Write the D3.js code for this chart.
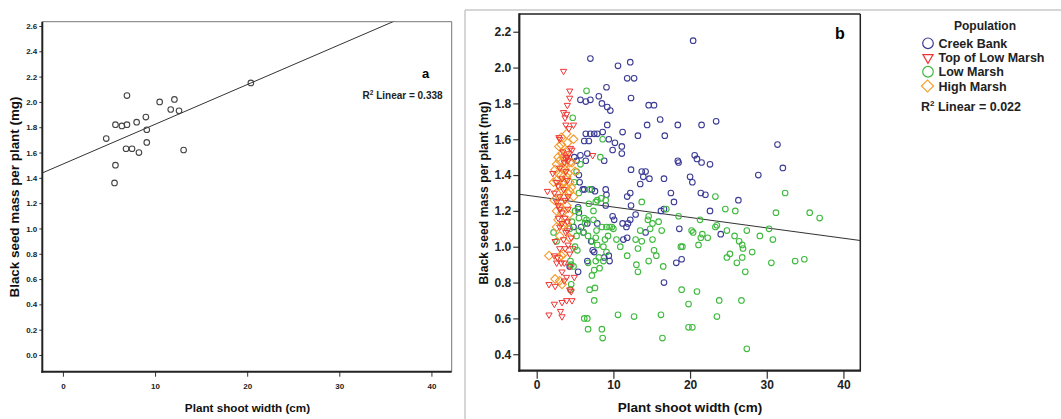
<!DOCTYPE html>
<html><head><meta charset="utf-8">
<script src="https://cdn.jsdelivr.net/npm/d3@7"></script>
<style>body{margin:0;background:#fff;} svg{display:block;font-family:"Liberation Sans",Arial,sans-serif;}</style>
</head><body><svg id="c" width="1061" height="419"></svg>
<script>
// ---------- DATA ----------
// Panel a
const aShoot = [4.7,5.6,5.7,5.7,6.4,6.95,6.95,6.85,7.5,8.0,8.25,9.0,9.1,9.1,10.5,11.7,12.1,12.6,13.1,20.4];
const aSeed  = [1.71,1.36,1.50,1.82,1.81,1.82,2.05,1.63,1.63,1.84,1.60,1.88,1.78,1.68,2.00,1.94,2.02,1.93,1.62,2.15];
const aFit = {intercept: 1.509, slope: 0.0314};
const aR2 = "0.338";
const aYTicks = [0.0,0.2,0.4,0.6,0.8,1.0,1.2,1.4,1.6,1.8,2.0,2.2,2.4,2.6];
const xTicks = [0,10,20,30,40];

// Panel b
const populations = ["Creek Bank","Top of Low Marsh","Low Marsh","High Marsh"];
const cbX = [20.4,7.0,10.6,12.2,11.8,12.7,12.3,9.1,8.1,5.7,6.4,7.0,8.5,9.2,9.6,14.6,15.3,16.1,14.4,18.4,21.5,23.4,16.7,13.2,11.2,9.2,6.2,6.4,7.0,7.5,7.9,8.6,6.8,9.4,10.2,9.9,11.1,11.1,5.7,6.6,6.4,8.8,20.6,20.9,21.5,22.6,18.4,18.5,31.4,32.1,28.9,20.0,20.3,12.3,13.7,14.2,13.9,14.7,13.5,16.6,5.5,5.6,6.0,6.2,7.2,7.6,9.0,9.1,12.2,11.8,12.3,17.5,17.9,21.4,22.0,26.3,9.0,12.9,16.2,16.6,22.6,9.9,10.1,11.2,11.7,11.9,12.2,11.8,11.3,14.2,18.6,24.0,18.9,18.2,16.6,7.1,7.3,7.5,6.6,8.8,9.4,9.5,5.4,4.3,4.8,5.8,6.6,7.9,6.1,5.4,5.5,4.9,5.2];
const cbY = [2.15,2.05,2.01,2.03,1.94,1.94,1.83,1.89,1.84,1.82,1.81,1.82,1.80,1.78,1.76,1.79,1.79,1.71,1.68,1.68,1.68,1.70,1.62,1.62,1.64,1.68,1.59,1.63,1.63,1.63,1.63,1.64,1.59,1.60,1.58,1.54,1.56,1.52,1.51,1.52,1.48,1.48,1.51,1.49,1.47,1.46,1.48,1.47,1.57,1.44,1.40,1.39,1.36,1.43,1.42,1.42,1.39,1.38,1.35,1.38,1.40,1.36,1.32,1.32,1.32,1.31,1.32,1.29,1.30,1.28,1.23,1.30,1.25,1.30,1.29,1.26,1.23,1.18,1.20,1.21,1.20,1.17,1.15,1.13,1.11,1.13,1.15,1.05,1.04,1.08,1.10,1.07,0.93,0.91,0.80,1.03,0.98,0.97,0.92,0.94,0.95,0.92,0.86,0.89,1.11,1.11,1.13,1.13,1.08,1.22,1.19,1.50,1.48];
const lmX = [6.5,4.7,8.6,8.3,5.7,32.4,23.3,13.7,24.6,25.9,31.2,35.6,36.9,16.9,18.5,21.3,14.6,15.1,15.9,14.5,14.8,13.5,16.3,20.2,20.4,21.6,21.4,22.3,23.5,23.3,24.8,27.4,30.3,29.1,30.8,25.8,26.4,26.8,26.9,28.1,25.2,24.8,26.8,26.1,27.2,30.6,33.7,34.9,18.8,21.1,15.1,15.3,15.6,14.6,16.5,13.0,13.2,13.2,13.7,12.9,11.8,10.9,10.4,9.5,9.8,9.1,8.5,18.9,20.9,19.8,23.8,26.7,23.5,16.2,10.6,12.7,19.8,20.3,16.4,27.4,8.5,8.6,6.7,6.2,6.6,6.9,7.6,7.5,7.2,8.2,7.5,6.7,7.7,8.7,8.1,8.7,9.1,7.9,7.2,7.7,6.7,6.1,5.5,5.2,5.0,5.3,4.4,4.5,4.8,4.5,4.4,2.2,2.6,4.3,4.6,5.5,6.2,6.5,6.3,5.0,5.4,6.8,7.4,7.9,8.4,7.7,9.0,5.5,6.9,4.9,5.2,7.4,7.8,9.3,10.0,8.9,19.0];
const lmY = [1.87,1.72,1.60,1.50,1.46,1.30,1.28,1.25,1.21,1.20,1.19,1.19,1.16,1.21,1.17,1.15,1.17,1.13,1.14,1.15,1.10,1.09,1.09,1.09,1.08,1.07,1.05,1.05,1.12,1.11,1.09,1.09,1.10,1.06,1.04,1.06,1.03,1.01,0.99,0.97,0.96,0.94,0.94,0.91,0.86,0.91,0.92,0.93,1.00,1.01,1.04,0.98,0.95,0.92,0.89,0.90,0.86,0.99,1.03,1.04,0.95,1.00,1.04,1.11,1.11,1.11,1.11,0.76,0.75,0.68,0.70,0.70,0.61,0.62,0.62,0.61,0.55,0.55,0.49,0.43,0.54,0.49,0.54,0.60,0.60,0.76,0.77,0.70,0.84,0.88,0.87,0.91,0.92,0.92,0.94,1.00,0.97,1.01,1.03,1.05,1.06,1.08,1.09,1.06,1.00,0.98,0.92,0.90,0.89,0.79,0.76,1.08,1.03,1.10,1.14,1.16,1.16,1.15,1.13,1.20,1.21,1.24,1.20,1.26,1.27,1.25,1.26,1.30,1.32,1.36,1.42,1.15,1.09,1.06,1.10,1.04,1.00];
const tlmX = [3.5,4.3,4.3,4.0,3.5,3.9,3.7,3.8,4.8,4.2,2.9,3.0,4.6,3.9,7.3,1.4,2.1,2.6,2.3,2.6,3.0,2.8,3.3,2.4,2.3,2.7,2.6,3.2,3.3,3.6,1.6,2.4,2.3,3.3,3.9,4.6,4.5,4.3,1.6,3.1,3.3,4.0,4.5,4.9,4.7,3.8,4.0,4.1,3.6,3.0,3.8,3.3,4.0,2.8,3.5,4.1,3.0,3.7,2.8,4.1,3.3,3.7,4.0,3.0,3.8,3.5,4.1,3.7,3.0,4.3,3.6,4.3,3.9,4.4,4.2,3.4];
const tlmY = [1.98,1.87,1.83,1.79,1.75,1.74,1.72,1.68,1.68,1.66,1.61,1.60,1.54,1.50,1.51,1.31,1.41,1.36,1.30,1.25,1.21,1.16,1.13,1.03,0.95,0.94,0.91,0.91,0.86,0.81,0.79,0.78,0.68,0.69,0.70,0.70,0.75,0.76,0.62,0.64,0.61,1.09,1.05,0.83,0.99,1.49,1.50,1.48,1.47,1.44,1.42,1.38,1.37,1.34,1.32,1.28,1.28,1.26,1.23,1.21,1.19,1.16,1.14,1.11,1.08,1.04,1.01,0.99,0.99,0.96,0.91,0.89,0.83,1.55,1.52,1.53];
const hmX = [3.2,3.9,4.8,2.9,3.2,3.8,3.5,3.0,2.6,3.7,4.3,4.6,5.0,2.4,2.8,3.2,3.9,2.6,3.5,4.3,3.0,3.8,2.6,4.8,2.3,3.0,3.9,2.6,3.3,2.8,3.9,2.6,3.0,4.3,1.6,3.2,3.5,2.9,2.4,3.0,3.3,4.3,2.2,3.5,4.1,3.4,4.0,3.1,3.6,4.2,3.4,3.7,4.5,2.8,4.0,3.3];
const hmY = [1.61,1.63,1.60,1.56,1.57,1.53,1.50,1.48,1.46,1.46,1.47,1.47,1.42,1.43,1.41,1.40,1.39,1.37,1.36,1.36,1.34,1.33,1.30,1.28,1.26,1.25,1.23,1.20,1.19,1.15,1.13,1.11,1.06,1.05,0.95,0.95,0.96,0.94,0.82,0.81,0.79,1.31,1.36,1.44,1.41,1.35,1.30,1.22,1.28,1.18,1.12,1.43,1.33,1.50,1.58,1.52];
const bFit = {intercept: 1.280, slope: -0.00582};
const bR2 = "0.022";
const bYTicks = [0.4,0.6,0.8,1.0,1.2,1.4,1.6,1.8,2.0,2.2];
const colors = {"Creek Bank":"#3c3c96","Top of Low Marsh":"#ee3535","Low Marsh":"#3fba3f","High Marsh":"#f79a2c"};

// ---------- DRAW ----------
const svg = d3.select("#c");
const fmt = d3.format(".1f");

// ===== Panel a =====
const xA = d3.scaleLinear().domain([-2.24, 42.2]).range([42.3, 451.7]);
const yA = d3.scaleLinear().domain([-0.132, 2.634]).range([371.7, 21.7]);
const gA = svg.append("g");
gA.append("clipPath").attr("id","clipA").append("rect")
  .attr("x",xA.range()[0]).attr("y",yA.range()[1])
  .attr("width",xA.range()[1]-xA.range()[0]).attr("height",yA.range()[0]-yA.range()[1]);
gA.append("line").attr("x1",xA.range()[0]).attr("x2",xA.range()[1]).attr("y1",yA.range()[1]).attr("y2",yA.range()[1]).attr("stroke","#777").attr("stroke-width",1);
gA.append("line").attr("x1",xA.range()[1]).attr("x2",xA.range()[1]).attr("y1",yA.range()[1]).attr("y2",yA.range()[0]).attr("stroke","#777").attr("stroke-width",1);
const axYA = gA.append("g").attr("transform",`translate(${xA.range()[0]},0)`)
  .call(d3.axisLeft(yA).tickValues(aYTicks).tickFormat(fmt).tickSize(3).tickSizeOuter(0).tickPadding(2));
const axXA = gA.append("g").attr("transform",`translate(0,${yA.range()[0]})`)
  .call(d3.axisBottom(xA).tickValues(xTicks).tickSize(5).tickSizeOuter(0).tickPadding(7));
[axYA, axXA].forEach(ax => {
  ax.select(".domain").remove();
  ax.selectAll(".tick line").attr("stroke","#333").attr("stroke-width",1);
  ax.selectAll("text").attr("font-family","'Liberation Sans',Arial,sans-serif").attr("font-size",8).attr("font-weight","bold").attr("fill","#222");
});
gA.append("line").attr("x1",xA.range()[0]).attr("x2",xA.range()[0]).attr("y1",yA.range()[1]).attr("y2",yA.range()[0]+1).attr("stroke","#222").attr("stroke-width",2);
gA.append("line").attr("x1",xA.range()[0]-1).attr("x2",xA.range()[1]).attr("y1",yA.range()[0]).attr("y2",yA.range()[0]).attr("stroke","#222").attr("stroke-width",2);
gA.append("line").attr("clip-path","url(#clipA)")
  .attr("x1",xA(xA.domain()[0])).attr("y1",yA(aFit.intercept + aFit.slope*xA.domain()[0]))
  .attr("x2",xA(xA.domain()[1])).attr("y2",yA(aFit.intercept + aFit.slope*xA.domain()[1]))
  .attr("stroke","#333").attr("stroke-width",1);
gA.append("g").selectAll("circle").data(aShoot.map((x,i)=>[x,aSeed[i]])).join("circle")
  .attr("cx",d=>xA(d[0])).attr("cy",d=>yA(d[1])).attr("r",2.8)
  .attr("fill","none").attr("stroke","#444").attr("stroke-width",1.1);
gA.append("text").attr("x",425.5).attr("y",77.5).attr("text-anchor","middle").attr("font-size",13).attr("font-weight","bold").text("a");
const r2a = gA.append("text").attr("x",362.5).attr("y",99).attr("font-size",10).attr("font-weight","bold").attr("fill","#222");
r2a.append("tspan").text("R");
r2a.append("tspan").attr("font-size",6.5).attr("dy",-4).text("2");
r2a.append("tspan").attr("dy",4).text(" Linear = " + aR2);
gA.append("text").attr("x",247.5).attr("y",411.5).attr("text-anchor","middle").attr("font-size",11.7).attr("font-weight","bold").attr("fill","#111").text("Plant shoot width (cm)");
gA.append("text").attr("transform","translate(18.5,197) rotate(-90)").attr("text-anchor","middle").attr("font-size",13.4).attr("font-weight","bold").attr("fill","#111").text("Black seed mass per plant (mg)");

// ===== Panel b =====
const gB = svg.append("g");
gB.append("line").attr("x1",465).attr("x2",1061).attr("y1",10).attr("y2",10).attr("stroke","#c8c8c8").attr("stroke-width",1.5);
gB.append("line").attr("x1",465).attr("x2",465).attr("y1",10).attr("y2",419).attr("stroke","#c8c8c8").attr("stroke-width",1.5);

const xB = d3.scaleLinear().domain([-2.27, 42.2]).range([519.3, 860.3]);
const yB = d3.scaleLinear().domain([0.308, 2.299]).range([370.7, 14]);
gB.append("clipPath").attr("id","clipB").append("rect")
  .attr("x",xB.range()[0]).attr("y",yB.range()[1])
  .attr("width",xB.range()[1]-xB.range()[0]).attr("height",yB.range()[0]-yB.range()[1]);

const axYB = gB.append("g").attr("transform",`translate(${xB.range()[0]},0)`)
  .call(d3.axisLeft(yB).tickValues(bYTicks).tickFormat(fmt).tickSize(6).tickSizeOuter(0).tickPadding(2));
const axXB = gB.append("g").attr("transform",`translate(0,${yB.range()[0]})`)
  .call(d3.axisBottom(xB).tickValues(xTicks).tickSize(8).tickSizeOuter(0).tickPadding(2));
[axYB, axXB].forEach(ax => {
  ax.select(".domain").remove();
  ax.selectAll(".tick line").attr("stroke","#333").attr("stroke-width",1.2);
  ax.selectAll("text").attr("font-family","'Liberation Sans',Arial,sans-serif").attr("font-size",12).attr("font-weight","bold").attr("fill","#222");
});

gB.append("line").attr("clip-path","url(#clipB)")
  .attr("x1",xB(xB.domain()[0])).attr("y1",yB(bFit.intercept + bFit.slope*xB.domain()[0]))
  .attr("x2",xB(xB.domain()[1])).attr("y2",yB(bFit.intercept + bFit.slope*xB.domain()[1]))
  .attr("stroke","#333").attr("stroke-width",1.1);

const marks = gB.append("g").attr("clip-path","url(#clipB)");
const tri = d3.symbol().type(d3.symbolTriangle).size(17)();
const dia = d3.symbol().type(d3.symbolSquare).size(38)();
function circles(xs, ys, col){
  marks.append("g").selectAll("circle").data(xs.map((x,i)=>[x,ys[i]])).join("circle")
    .attr("cx",d=>xB(d[0])).attr("cy",d=>yB(d[1])).attr("r",2.8)
    .attr("fill","none").attr("stroke",col).attr("stroke-width",1.1);
}
circles(cbX, cbY, colors["Creek Bank"]);
circles(lmX, lmY, colors["Low Marsh"]);
marks.append("g").selectAll("path").data(hmX.map((x,i)=>[x,hmY[i]])).join("path")
  .attr("d",dia).attr("transform",d=>`translate(${xB(d[0])},${yB(d[1])}) rotate(45)`)
  .attr("fill","none").attr("stroke",colors["High Marsh"]).attr("stroke-width",1.1);
marks.append("g").selectAll("path").data(tlmX.map((x,i)=>[x,tlmY[i]])).join("path")
  .attr("d",tri).attr("transform",d=>`translate(${xB(d[0])},${yB(d[1])}) rotate(180)`)
  .attr("fill","none").attr("stroke",colors["Top of Low Marsh"]).attr("stroke-width",1);

gB.append("line").attr("x1",xB.range()[0]).attr("x2",xB.range()[1]).attr("y1",yB.range()[1]).attr("y2",yB.range()[1]).attr("stroke","#222").attr("stroke-width",1.5);
gB.append("line").attr("x1",xB.range()[1]).attr("x2",xB.range()[1]).attr("y1",yB.range()[1]).attr("y2",yB.range()[0]).attr("stroke","#222").attr("stroke-width",1.5);
gB.append("line").attr("x1",xB.range()[0]).attr("x2",xB.range()[0]).attr("y1",yB.range()[1]-0.7).attr("y2",yB.range()[0]+1).attr("stroke","#222").attr("stroke-width",2.2);
gB.append("line").attr("x1",xB.range()[0]-1).attr("x2",xB.range()[1]+0.7).attr("y1",yB.range()[0]).attr("y2",yB.range()[0]).attr("stroke","#222").attr("stroke-width",2.2);

gB.append("text").attr("x",840).attr("y",38.5).attr("text-anchor","middle").attr("font-size",16).attr("font-weight","bold").text("b");
gB.append("text").attr("x",690).attr("y",412).attr("text-anchor","middle").attr("font-size",13.5).attr("font-weight","bold").attr("fill","#111").text("Plant shoot width (cm)");
gB.append("text").attr("transform","translate(488,193) rotate(-90)").attr("text-anchor","middle").attr("font-size",12.2).attr("font-weight","bold").attr("fill","#111").text("Black seed mass per plant (mg)");

// legend
const lg = svg.append("g");
lg.append("text").attr("x",985).attr("y",29.5).attr("text-anchor","middle").attr("font-size",12).attr("font-weight","bold").attr("fill","#222").text("Population");
const legY = d3.scalePoint().domain(populations).range([43.3, 86]);
populations.forEach(p => {
  const y = legY(p), col = colors[p];
  if (p === "Creek Bank" || p === "Low Marsh") {
    lg.append("circle").attr("cx",928).attr("cy",y).attr("r",5.3).attr("fill","none").attr("stroke",col).attr("stroke-width",1.2);
  } else if (p === "Top of Low Marsh") {
    lg.append("path").attr("d",d3.symbol().type(d3.symbolTriangle).size(45)()).attr("transform",`translate(928,${y}) rotate(180)`).attr("fill","none").attr("stroke",col).attr("stroke-width",1.2);
  } else {
    lg.append("path").attr("d",d3.symbol().type(d3.symbolSquare).size(72)()).attr("transform",`translate(927.5,${y}) rotate(45)`).attr("fill","none").attr("stroke",col).attr("stroke-width",1.2);
  }
  lg.append("text").attr("x",938.5).attr("y",y+4.5).attr("font-size",12.5).attr("font-weight","bold").attr("fill","#222").text(p);
});
const r2b = lg.append("text").attr("x",921).attr("y",111).attr("font-size",12.5).attr("font-weight","bold").attr("fill","#222");
r2b.append("tspan").text("R");
r2b.append("tspan").attr("font-size",8).attr("dy",-5).text("2");
r2b.append("tspan").attr("dy",5).text(" Linear = " + bR2);
</script></body></html>
